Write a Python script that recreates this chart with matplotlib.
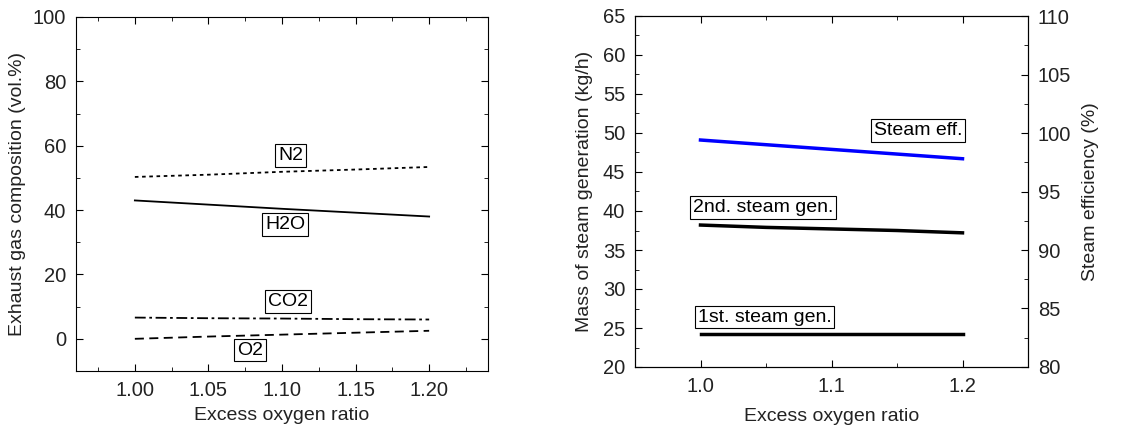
import matplotlib.pyplot as plt
from matplotlib.ticker import MultipleLocator

plt.rcParams['font.family'] = ['Liberation Sans', 'DejaVu Sans']

# 左圖：排氣組成
ratio = [1.00, 1.05, 1.10, 1.15, 1.20]
n2 = [50.3, 51.0, 51.9, 52.6, 53.4]
h2o = [43.0, 41.7, 40.4, 39.2, 38.0]
co2 = [6.6, 6.4, 6.3, 6.1, 6.0]
o2 = [0.0, 0.7, 1.3, 1.9, 2.5]

# 右圖：蒸汽產量與效率
ratio2 = [1.00, 1.05, 1.10, 1.15, 1.20]
steam_eff = [99.4, 99.0, 98.6, 98.2, 97.8]
steam_2nd = [38.2, 37.9, 37.7, 37.5, 37.2]
steam_1st = [24.2, 24.2, 24.2, 24.2, 24.2]

W, H = 1145, 428
fig = plt.figure(figsize=(W / 100, H / 100), dpi=100)

box = dict(boxstyle='square,pad=0.15', fc='white', ec='black', lw=0.8)
fs_tick = 14.5
fs_lab = 14
fs_txt = 14
tc = '#222222'


def style(ax, right=True):
    ax.tick_params(which='both', direction='in', top=True, right=right,
                   labelsize=fs_tick, labelcolor=tc, pad=7)
    ax.tick_params(which='major', length=5)
    ax.tick_params(which='minor', length=3)


ax1 = fig.add_axes([76 / W, (H - 371) / H, 412 / W, 354 / H])
ax1.plot(ratio, n2, color='black', lw=1.3, ls=(0, (2, 2)))
ax1.plot(ratio, h2o, color='black', lw=1.3, ls='-')
ax1.plot(ratio, co2, color='black', lw=1.3, ls=(0, (6, 2, 1.5, 2)))
ax1.plot(ratio, o2, color='black', lw=1.3, ls=(0, (5, 3)))
ax1.set_xlim(0.96, 1.24)
ax1.set_ylim(-10, 100)
ax1.xaxis.set_major_locator(MultipleLocator(0.05))
ax1.xaxis.set_minor_locator(MultipleLocator(0.025))
ax1.yaxis.set_major_locator(MultipleLocator(20))
ax1.yaxis.set_minor_locator(MultipleLocator(10))
ax1.set_xticks([1.00, 1.05, 1.10, 1.15, 1.20])
ax1.set_xticklabels(['1.00', '1.05', '1.10', '1.15', '1.20'])
style(ax1)
ax1.set_xlabel('Excess oxygen ratio', fontsize=fs_lab, color=tc, labelpad=5)
ax1.set_ylabel('Exhaust gas composition (vol.%)', fontsize=fs_lab, color=tc, labelpad=5)
ax1.text(1.106, 57, 'N2', fontsize=fs_txt, ha='center', va='center', bbox=box)
ax1.text(1.102, 35.5, 'H2O', fontsize=fs_txt, ha='center', va='center', bbox=box)
ax1.text(1.104, 11.5, 'CO2', fontsize=fs_txt, ha='center', va='center', bbox=box)
ax1.text(1.078, -3.5, 'O2', fontsize=fs_txt, ha='center', va='center', bbox=box)

ax2 = fig.add_axes([635 / W, (H - 367) / H, 393 / W, 351 / H])
ax2.plot(ratio2, steam_2nd, color='black', lw=2.5)
ax2.plot(ratio2, steam_1st, color='black', lw=2.5)
ax2.set_xlim(0.95, 1.25)
ax2.set_ylim(20, 65)
ax2.xaxis.set_major_locator(MultipleLocator(0.1))
ax2.xaxis.set_minor_locator(MultipleLocator(0.05))
ax2.yaxis.set_major_locator(MultipleLocator(5))
ax2.yaxis.set_minor_locator(MultipleLocator(2.5))
ax2.set_xticks([1.0, 1.1, 1.2])
ax2.set_xticklabels(['1.0', '1.1', '1.2'])
style(ax2, right=False)
ax2.set_xlabel('Excess oxygen ratio', fontsize=fs_lab, color=tc, labelpad=9)
ax2.set_ylabel('Mass of steam generation (kg/h)', fontsize=fs_lab, color=tc, labelpad=7)

ax3 = ax2.twinx()
ax3.plot(ratio2, steam_eff, color='#0000ff', lw=2.5)
ax3.set_ylim(80, 110)
ax3.yaxis.set_major_locator(MultipleLocator(5))
ax3.yaxis.set_minor_locator(MultipleLocator(2.5))
ax3.tick_params(which='both', direction='in', labelsize=fs_tick, labelcolor=tc, pad=7)
ax3.tick_params(which='major', length=5)
ax3.tick_params(which='minor', length=3)
ax3.set_ylabel('Steam efficiency (%)', fontsize=fs_lab, color=tc, labelpad=8)

ax2.text(1.166, 50.3, 'Steam eff.', fontsize=fs_txt, ha='center', va='center', bbox=box)
ax2.text(1.048, 40.4, '2nd. steam gen.', fontsize=fs_txt, ha='center', va='center', bbox=box)
ax2.text(1.049, 26.4, '1st. steam gen.', fontsize=fs_txt, ha='center', va='center', bbox=box)

fig.savefig('out.png', dpi=100)
